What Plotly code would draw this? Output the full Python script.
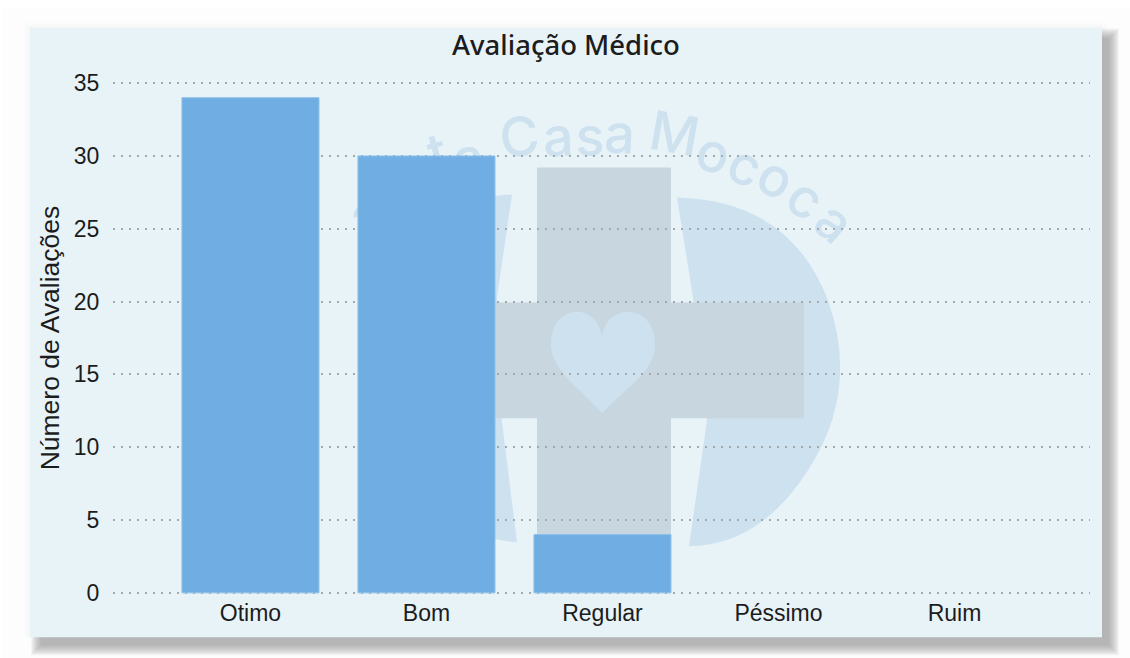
import plotly.graph_objects as go

categories = ["Otimo", "Bom", "Regular", "Péssimo", "Ruim"]
avaliacoes = [34, 30, 4, 0, 0]
y_ticks = [0, 5, 10, 15, 20, 25, 30, 35]

W, H = 1130, 658
L, R, T, B = 113, 1090, 81.5, 593.7
SANS = "Liberation Sans, Arial, sans-serif"
TEXT = "#1c1c1c"
WM = "#cde1ef"
CROSS = "#c8d6df"
PAD = 0.08  # keeps the gridlines at 0 and 35 drawn


def px(x):
    return (x - L) / (R - L)


def py(y):
    return (B - y) / (B - T)


def rect(x0, y0, x1, y1, color, opacity=1.0):
    return dict(type="rect", xref="paper", yref="paper", layer="below",
                x0=px(x0), y0=py(y0), x1=px(x1), y1=py(y1),
                fillcolor=color, opacity=opacity, line=dict(width=0))


def path(cmds, color):
    out = []
    for c in cmds:
        if isinstance(c, str):
            out.append(c)
        else:
            out.append(f"{px(c[0]):.5f},{py(c[1]):.5f}")
    return dict(type="path", xref="paper", yref="paper", layer="below",
                path=" ".join(out), fillcolor=color, line=dict(width=0))


shapes = [rect(3, 7, 1130, 658, "#fdfdfd")]
# faint halo above and left of the panel
for g in range(1, 7):
    shapes.append(rect(30 - g, 27 - g, 1102 + g, 637, "#8a8a8a", 0.012))
# soft panel shadow
for g in range(10, -1, -1):
    shapes.append(rect(41 - g, 38 - g, 1109 + g, 645 + g, "#8c8c8c", 0.075))
shapes.append(rect(30, 27, 1102, 637, "#e8f3f8"))

# watermark: rounded side pieces, cross, heart
shapes.append(path(["M", (677, 197), "Q", (790, 200), (828, 300), "Q", (860, 390), (808, 470),
                    "Q", (760, 545), (689, 546), "L", (707, 420), "L", (693, 297), "Z"], WM))
shapes.append(path(["M", (512, 194), "Q", (410, 200), (375, 300), "Q", (345, 390), (395, 470),
                    "Q", (440, 535), (517, 542), "L", (502, 422), "L", (497, 297), "Z"], WM))
shapes.append(rect(537, 167, 671, 540, CROSS))
shapes.append(rect(403, 302, 804, 418, CROSS))
shapes.append(path(["M", (602, 336), "C", (596, 300), (550, 304), (551, 345),
                    "C", (552, 372), (585, 392), (602, 413),
                    "C", (620, 392), (655, 372), (655, 345),
                    "C", (656, 304), (608, 300), (602, 336), "Z"], WM))

# watermark lettering, one letter per shape label so it stays under the bars
letters = [("a", 365, 212, -30), ("n", 400, 175, -24), ("t", 437, 150, -16),
           ("a", 468, 155, -12), ("C", 519, 134, -7), ("a", 558, 134, -3), ("s", 590, 134, 0),
           ("a", 620, 131, 3), ("M", 675, 131, 10), ("o", 714, 150, 16), ("c", 746, 163, 22),
           ("o", 777, 175, 28), ("c", 807, 196, 34), ("a", 836, 220, 40)]
for ch, cx, cy, ang in letters:
    s = rect(cx - 25, cy - 30, cx + 25, cy + 30, "rgba(0,0,0,0)")
    s["label"] = dict(text=ch, textangle=ang, textposition="middle center",
                      font=dict(family="Inter, sans-serif", size=54, color=WM, weight=500))
    shapes.append(s)

fig = go.Figure(go.Bar(
    x=categories, y=avaliacoes, width=137 / 176,
    marker=dict(color="#6fade2",
                line=dict(color="#8cbfea", width=[1, 1, 1, 0, 0])),
    hoverinfo="skip",
))

fig.update_layout(
    width=W, height=H, autosize=False,
    margin=dict(l=L, r=W - R, t=T, b=H - B, pad=0),
    paper_bgcolor="#ffffff", plot_bgcolor="rgba(0,0,0,0)",
    showlegend=False, shapes=shapes,
    title=dict(text="Avaliação Médico", xref="paper", yref="container",
               x=px(566), y=1 - 45 / H, xanchor="center", yanchor="middle",
               font=dict(family="Noto Sans, sans-serif", size=27.5, color=TEXT, weight=500)),
)
fig.update_xaxes(
    type="category", categoryorder="array", categoryarray=categories,
    range=[-0.781, 4.770], showgrid=False, zeroline=False, showline=False,
    ticks="", ticklabelstandoff=3,
    tickfont=dict(family=SANS, size=23, color=TEXT),
)
fig.update_yaxes(
    range=[-PAD, 35 + PAD], tickvals=y_ticks, showline=False, zeroline=False,
    showgrid=True, gridcolor="#a3a9ac", griddash="2px,6px", gridwidth=2,
    ticks="outside", ticklen=8, tickcolor="rgba(0,0,0,0)",
    tickfont=dict(family=SANS, size=23, color=TEXT),
    title=dict(text="Número de Avaliações", standoff=6,
               font=dict(family=SANS, size=26.5, color=TEXT)),
)

fig.write_html("out.html", post_script="document.body.style.margin='0';",
               config=dict(displayModeBar=False))
